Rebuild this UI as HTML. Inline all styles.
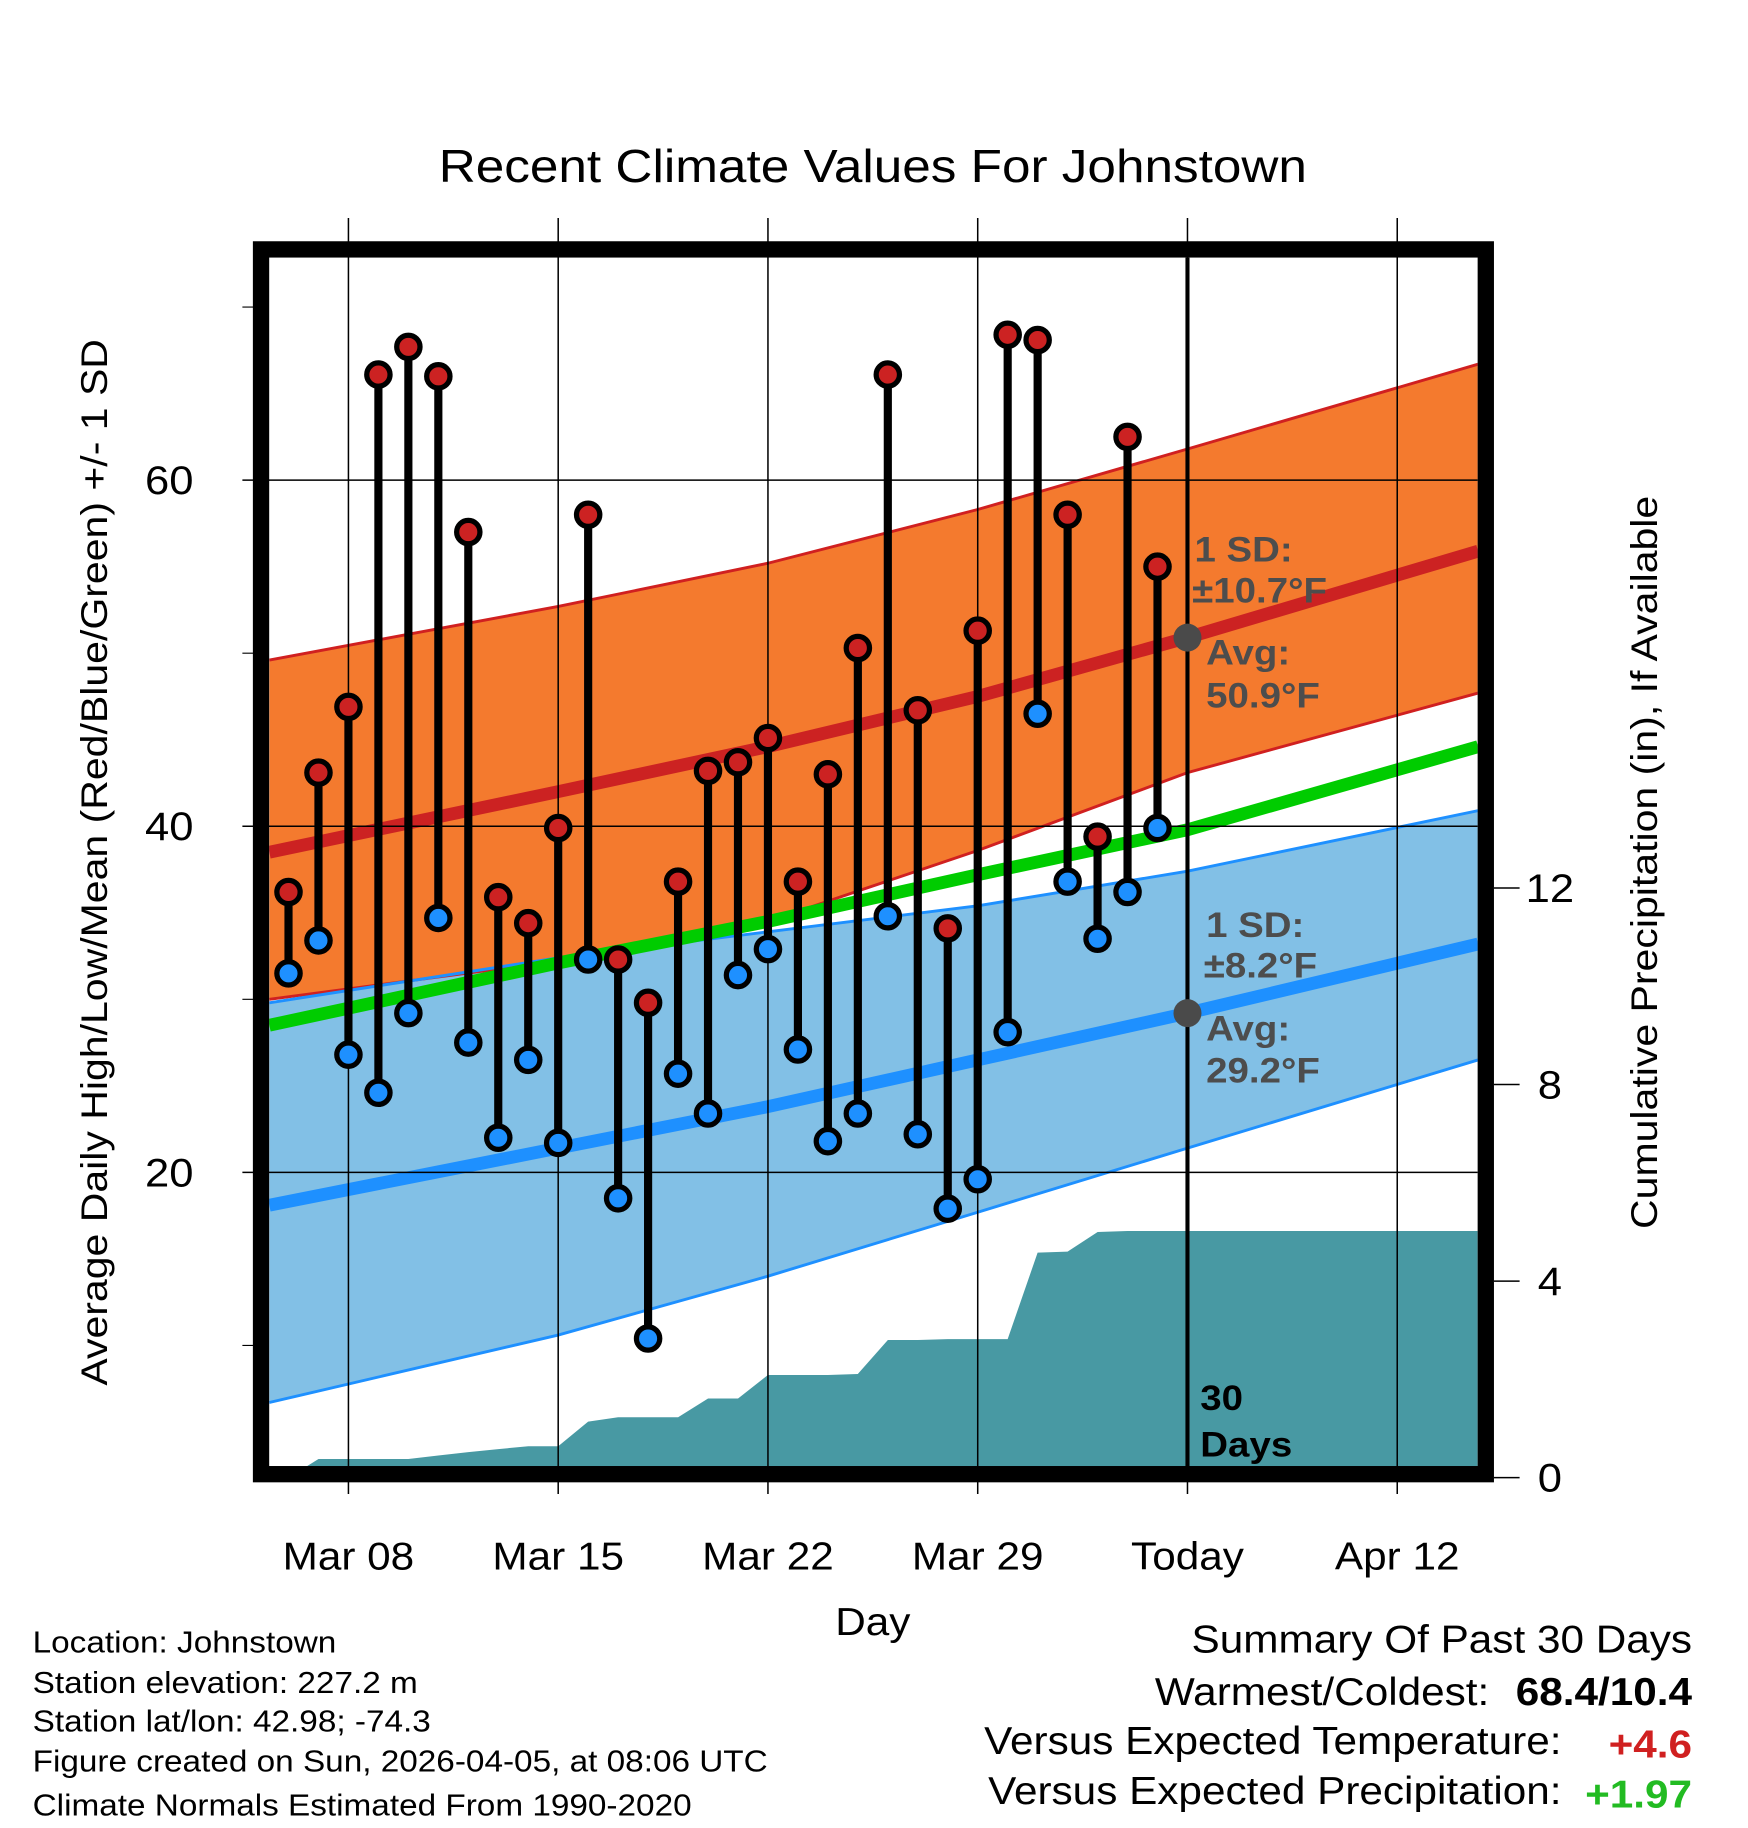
<!DOCTYPE html>
<html><head><meta charset="utf-8"><style>
html,body{margin:0;padding:0;background:#fff;}
svg{display:block;font-family:"Liberation Sans",sans-serif;}
</style></head><body>
<svg id="chart" width="1748" height="1828" viewBox="0 0 1500 1568.6" xmlns="http://www.w3.org/2000/svg">
<text x="749" y="156" font-size="40" text-anchor="middle">Recent Climate Values For Johnstown</text>
<g id="plot"></g>
<text x="749" y="1403" font-size="33" text-anchor="middle">Day</text>
<text transform="translate(92,740) rotate(-90)" font-size="32" text-anchor="middle">Average Daily High/Low/Mean (Red/Blue/Green) +/- 1 SD</text>
<text transform="translate(1422,740) rotate(-90)" font-size="32" text-anchor="middle">Cumulative Precipitation (in), If Available</text>
<g font-size="26">
<text x="28" y="1418">Location: Johnstown</text>
<text x="28" y="1453">Station elevation: 227.2 m</text>
<text x="28" y="1486">Station lat/lon: 42.98; -74.3</text>
<text x="28" y="1520">Figure created on Sun, 2026-04-05, at 08:06 UTC</text>
<text x="28" y="1558">Climate Normals Estimated From 1990-2020</text>
</g>
<g font-size="33">
<text x="1452" y="1418" text-anchor="end">Summary Of Past 30 Days</text>
<text x="1278" y="1463" text-anchor="end">Warmest/Coldest:</text>
<text x="1452" y="1463" text-anchor="end" font-weight="bold">68.4/10.4</text>
<text x="1340" y="1505" text-anchor="end">Versus Expected Temperature:</text>
<text x="1452" y="1508" text-anchor="end" font-weight="bold" fill="#d02020">+4.6</text>
<text x="1340" y="1548" text-anchor="end">Versus Expected Precipitation:</text>
<text x="1452" y="1551" text-anchor="end" font-weight="bold" fill="#22bb22">+1.97</text>
</g>
</svg>
<script>
// day index: 0 = Mar 08
const obsDays = [-2,-1,0,1,2,3,4,5,6,7,8,9,10,11,12,13,14,15,16,17,18,19,20,21,22,23,24,25,26,27];
const highs = [36.2,43.1,46.9,66.1,67.7,66.0,57.0,35.9,34.4,39.9,58.0,32.3,29.8,36.8,43.2,43.7,45.1,36.8,43.0,50.3,66.1,46.7,34.1,51.3,68.4,68.1,58.0,39.4,62.5,55.0];
const lows = [31.5,33.4,26.8,24.6,29.2,34.7,27.5,22.0,26.5,21.7,32.3,18.5,10.4,25.7,23.4,31.4,32.9,27.1,21.8,23.4,34.8,22.2,17.9,19.6,28.1,46.5,36.8,33.5,36.2,39.9];
const precip = [0,0.38,0.38,0.38,0.38,0.45,0.52,0.58,0.64,0.64,1.14,1.23,1.23,1.23,1.61,1.61,2.09,2.09,2.09,2.11,2.8,2.8,2.82,2.82,2.82,4.58,4.6,5.0,5.02,5.02];
const normDays = [-2.64,7,14,21,28,37.7];
const highMean = [38.5,42.0,44.6,47.5,50.9,55.9];
const highUpper = [49.6,52.7,55.2,58.3,61.8,66.7];
const highLower = [30.0,32.2,34.5,38.6,43.1,47.7];
const avgMean = [28.5,32.1,34.5,37.2,39.8,44.6];
const lowMean = [18.1,21.4,23.8,26.5,29.2,33.2];
const lowUpper = [29.8,32.4,33.9,35.4,37.4,40.9];
const lowLower = [6.7,10.6,14.0,17.7,21.4,26.5];
const xTickDays = [0,7,14,21,28,35];
const xTickLabels = ["Mar 08","Mar 15","Mar 22","Mar 29","Today","Apr 12"];
const yTicks = [20,40,60];
const yMinor = [10,30,50,70];
const y2Ticks = [0,4,8,12];

const X0=231,X1=1268,Y0=221,Y1=1259;
const xs = d => 299 + d*180/7;
const ys = v => 1303 - 14.85*v;
const ys2 = p => 1268 - 42.17*p;
const NS="http://www.w3.org/2000/svg";
const plot=document.getElementById('plot');
function mk(tag, attrs, parent){const e=document.createElementNS(NS,tag);for(const k in attrs)e.setAttribute(k,attrs[k]);(parent||plot).appendChild(e);return e;}
const line = (arr)=>normDays.map((d,i)=>xs(d).toFixed(1)+','+ys(arr[i]).toFixed(1));

const defs=mk('defs',{});const cp=mk('clipPath',{id:'clip'},defs);mk('rect',{x:X0,y:Y0,width:X1-X0,height:Y1-Y0},cp);
const g=mk('g',{'clip-path':'url(#clip)'});



let e;
e=mk('polygon',{points:line(highUpper).concat(line(highLower).reverse()).join(' '),fill:'#f47a2e'},g);

e=mk('polygon',{points:line(lowUpper).concat(line(lowLower).reverse()).join(' '),fill:'#82c0e6'},g);

[[highUpper,'#d02020',2.5],[highLower,'#d02020',2.5],[lowUpper,'#1e90ff',2.5],[lowLower,'#1e90ff',2.5]].forEach((a,i)=>{
 e=mk('polyline',{points:line(a[0]).join(' '),fill:'none',stroke:a[1],'stroke-width':a[2]},g);
 
});
let pts=[xs(obsDays[0])+','+Y1];
obsDays.forEach((d,i)=>pts.push(xs(d).toFixed(1)+','+ys2(precip[i]).toFixed(1)));
pts.push(X1+','+ys2(precip[precip.length-1]).toFixed(1));pts.push(X1+','+Y1);
e=mk('polygon',{points:pts.join(' '),fill:'#4899a3'},g);

xTickDays.forEach(d=>{e=mk('line',{x1:xs(d),x2:xs(d),y1:187,y2:1282,stroke:'#000','stroke-width':1.3});
 });
yTicks.forEach(v=>{e=mk('line',{x1:208,x2:X1,y1:ys(v),y2:ys(v),stroke:'#000','stroke-width':1.3});
 });
yMinor.forEach(v=>{e=mk('line',{x1:208,x2:222,y1:ys(v),y2:ys(v),stroke:'#000','stroke-width':1});
 });
[[highMean,'#cc2222','high-mean-line'],[avgMean,'#00cc00','mean-line'],[lowMean,'#1e90ff','low-mean-line']].forEach(a=>{
 e=mk('polyline',{points:line(a[0]).join(' '),fill:'none',stroke:a[1],'stroke-width':11},g);
 
});
e=mk('line',{x1:xs(28),x2:xs(28),y1:Y0,y2:Y1,stroke:'#000','stroke-width':3.5});

obsDays.forEach((d,i)=>{
 e=mk('line',{x1:xs(d),x2:xs(d),y1:ys(highs[i]),y2:ys(lows[i]),stroke:'#000','stroke-width':7});
 
});
obsDays.forEach((d,i)=>{
 e=mk('circle',{cx:xs(d),cy:ys(highs[i]),r:10,fill:'#cc2222',stroke:'#000','stroke-width':4.5});
 
 e=mk('circle',{cx:xs(d),cy:ys(lows[i]),r:10,fill:'#1e90ff',stroke:'#000','stroke-width':4.5});
 
});
e=mk('circle',{cx:xs(28),cy:ys(highMean[4]),r:12,fill:'#4a4a4a'});

e=mk('circle',{cx:xs(28),cy:ys(lowMean[4]),r:12,fill:'#4a4a4a'});

const ann=[[1025,482,'1 SD:'],[1023,517,'±10.7°F'],[1035,570,'Avg:'],[1035,607,'50.9°F'],[1035,804,'1 SD:'],[1033,839,'±8.2°F'],[1035,893,'Avg:'],[1035,929,'29.2°F']];
ann.forEach(a=>{e=mk('text',{x:a[0],y:a[1],'font-size':30,'font-weight':'bold',fill:'#4d4d4d'});e.textContent=a[2];
 });
e=mk('text',{x:1030,y:1210,'font-size':30,'font-weight':'bold'});e.textContent='30';

e=mk('text',{x:1030,y:1250,'font-size':30,'font-weight':'bold'});e.textContent='Days';

e=mk('rect',{x:224,y:214,width:1051,height:1051,fill:'none',stroke:'#000','stroke-width':14});

xTickDays.forEach((d,i)=>{e=mk('text',{x:xs(d),y:1347,'font-size':33,'text-anchor':'middle'});e.textContent=xTickLabels[i];
 });
yTicks.forEach(v=>{e=mk('text',{x:166,y:ys(v)+12,'font-size':34,'text-anchor':'end'});e.textContent=v;
 });
y2Ticks.forEach(p=>{
 e=mk('line',{x1:1282,x2:1304,y1:ys2(p),y2:ys2(p),stroke:'#000','stroke-width':1.3});
 
 e=mk('text',{x:1330,y:ys2(p)+12,'font-size':34,'text-anchor':'middle'});e.textContent=p;
 });
// widen glyphs to match the reference's wider sans font
document.querySelectorAll('#chart text').forEach(t=>{
 const L=t.getComputedTextLength();
 if(L>0){t.setAttribute('textLength',(L*1.1).toFixed(1));t.setAttribute('lengthAdjust','spacingAndGlyphs');}
});
</script>
</body></html>
